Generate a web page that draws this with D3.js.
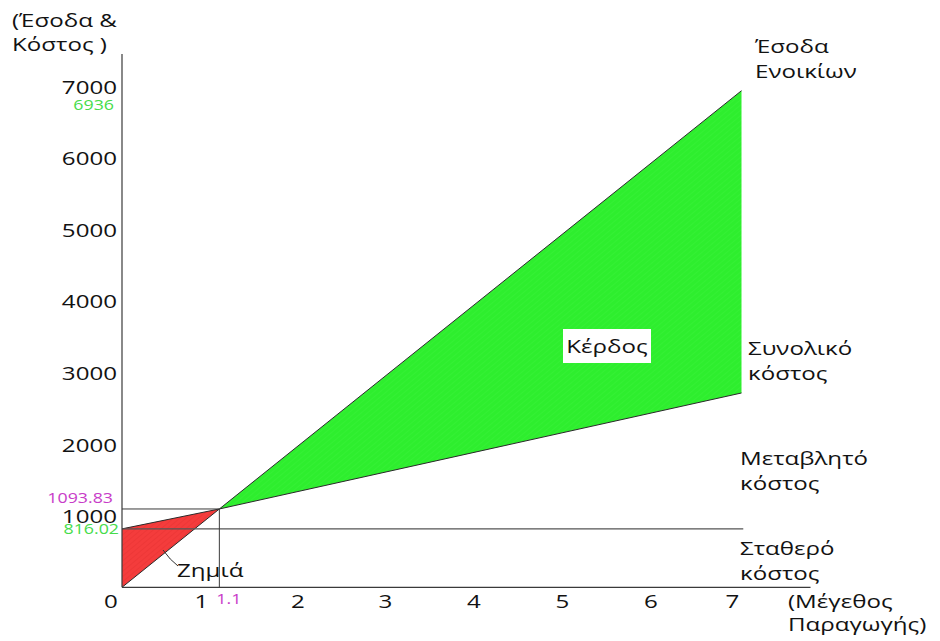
<!DOCTYPE html>
<html>
<head>
<meta charset="utf-8">
<script src="https://cdn.jsdelivr.net/npm/d3@7"></script>
<style>
  html, body { margin: 0; padding: 0; background: #fff; }
  svg { display: block; font-family: "Open Sans", "Noto Sans", sans-serif; }
</style>
</head>
<body>
<svg id="chart" width="940" height="641"></svg>
<script>
// Break-even chart: rental income vs. total cost
const quantity   = [0, 1.1, 7];
const revenue    = [0, 1093.83, 6936];
const totalCost  = [816.02, 1093.83, 2714];
const fixedCost  = 816.02;
const breakEvenQ = 1.1;
const breakEvenV = 1093.83;

const xTicks = [0, 1, 2, 3, 4, 5, 6, 7];
const yTicks = [1000, 2000, 3000, 4000, 5000, 6000, 7000];

const svg = d3.select("#chart");

const x = d3.scaleLinear().domain([0, 7]).range([122, 741.5]);
const y = d3.scaleLinear().domain([0, 7000]).range([587.3, 86.1]);

const axisColor = "#3a3a3a";
const ink = "#121212";
const SX = 1.27; // horizontal stretch of the lettering

// text drawn with a wide letter form
function txt(px, py, str, size, color, anchor) {
  return svg.append("text")
    .attr("transform", `translate(${px},${py}) scale(${SX},1)`)
    .attr("font-size", size)
    .attr("fill", color || ink)
    .attr("text-anchor", anchor || "start")
    .text(str);
}

// hatch textures for the shaded regions
const defs = svg.append("defs");
function hatch(id, base, stripe) {
  const p = defs.append("pattern")
    .attr("id", id).attr("patternUnits", "userSpaceOnUse")
    .attr("width", 4).attr("height", 4)
    .attr("patternTransform", "rotate(-40)");
  p.append("rect").attr("width", 4).attr("height", 4).attr("fill", base);
  p.append("line").attr("x1", 0).attr("y1", 0).attr("x2", 4).attr("y2", 0)
    .attr("stroke", stripe).attr("stroke-width", 1);
}
hatch("lossFill", "#f43c3c", "#e63232");
hatch("profitFill", "#2eee2e", "#3cf23c");

// Loss region: between revenue and total cost before break-even
const lossPts = [
  [x(quantity[0]), y(revenue[0])],
  [x(quantity[0]), y(totalCost[0])],
  [x(quantity[1]), y(totalCost[1])]
];
svg.append("path")
  .attr("d", d3.line()(lossPts) + "Z")
  .attr("fill", "url(#lossFill)");

// Profit region: between revenue and total cost after break-even
const profitPts = [
  [x(quantity[1]), y(revenue[1])],
  [x(quantity[2]), y(revenue[2])],
  [x(quantity[2]), y(totalCost[2])]
];
svg.append("path")
  .attr("d", d3.line()(profitPts) + "Z")
  .attr("fill", "url(#profitFill)");

// Revenue and total cost lines
const line = d3.line().x(d => x(d[0])).y(d => y(d[1]));
svg.append("path")
  .attr("d", line(quantity.map((q, i) => [q, revenue[i]])))
  .attr("fill", "none").attr("stroke", "#2a2a2a").attr("stroke-width", 1);
svg.append("path")
  .attr("d", line(quantity.map((q, i) => [q, totalCost[i]])))
  .attr("fill", "none").attr("stroke", "#2a2a2a").attr("stroke-width", 1);

// Fixed cost line
svg.append("line")
  .attr("x1", x(0)).attr("x2", x(7.02))
  .attr("y1", y(fixedCost)).attr("y2", y(fixedCost))
  .attr("stroke", "#555").attr("stroke-width", 1.2);

// Break-even guides
svg.append("line")
  .attr("x1", x(0)).attr("x2", x(breakEvenQ))
  .attr("y1", y(breakEvenV)).attr("y2", y(breakEvenV))
  .attr("stroke", axisColor).attr("stroke-width", 1);
svg.append("line")
  .attr("x1", x(breakEvenQ)).attr("x2", x(breakEvenQ))
  .attr("y1", y(breakEvenV)).attr("y2", y(0))
  .attr("stroke", axisColor).attr("stroke-width", 1);

// Axes
svg.append("line")
  .attr("x1", x(0)).attr("x2", x(0))
  .attr("y1", y(0)).attr("y2", y(7450))
  .attr("stroke", axisColor).attr("stroke-width", 1.2);
svg.append("line")
  .attr("x1", x(0)).attr("x2", x(7.78))
  .attr("y1", y(0)).attr("y2", y(0))
  .attr("stroke", axisColor).attr("stroke-width", 1.2);

// Tick labels
yTicks.forEach(d => txt(117, y(d) + 7.5, d, 19, ink, "end"));

const xLabelShift = {0: -11, 1: -9, 2: -1, 3: -2, 4: -2, 5: -2, 6: -2, 7: -9};
xTicks.forEach(d => txt(x(d) + xLabelShift[d], 608, d, 19, ink, "middle"));

// Value annotations
const green = "#46dc4a", magenta = "#c83cc8";
txt(114, y(revenue[2]) + 19, revenue[2], 14, green, "end");
txt(119, y(fixedCost) + 5.5, fixedCost.toFixed(2), 14, green, "end");
txt(113, y(breakEvenV) - 5.5, breakEvenV.toFixed(2), 14, magenta, "end");
txt(x(breakEvenQ) - 3, 604, breakEvenQ, 14, magenta, "start");

// Two-line labels
function label(px, py, lines, gap) {
  lines.forEach((s, i) => txt(px, py + i * (gap || 24.5), s, 19));
}

// Axis titles
label(12, 27, ["(Έσοδα &", "Κόστος )"], 23.5);
label(788, 608, ["(Μέγεθος", "Παραγωγής)"], 23);

// Line labels on the right
label(755, 53, ["Έσοδα", "Ενοικίων"]);
label(748, 355, ["Συνολικό", "κόστος"]);
label(740, 465, ["Μεταβλητό", "κόστος"]);
label(740, 555, ["Σταθερό", "κόστος"]);

// Profit label on white box
svg.append("rect").attr("x", 563).attr("y", 329).attr("width", 88).attr("height", 34)
  .attr("fill", "#fff");
txt(607, 353, "Κέρδος", 19, ink, "middle");

// Loss label with leader
svg.append("path")
  .attr("d", "M163,550 Q170,560 178,566")
  .attr("fill", "none").attr("stroke", "#333").attr("stroke-width", 1);
txt(177, 577, "Ζημιά", 19);
</script>
</body>
</html>
